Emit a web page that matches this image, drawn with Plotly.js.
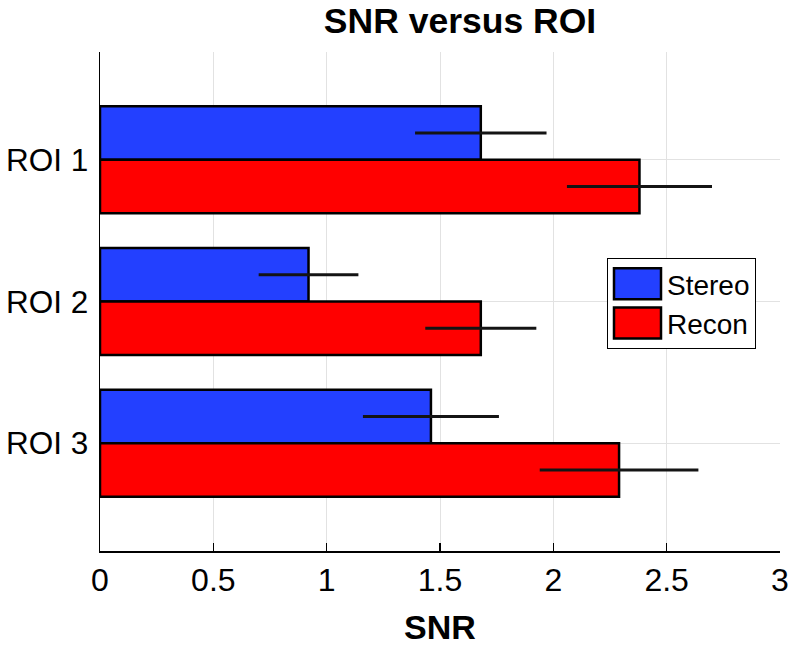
<!DOCTYPE html>
<html>
<head>
<meta charset="utf-8">
<script src="https://cdn.plot.ly/plotly-3.0.1.min.js"></script>
<style>html,body{margin:0;padding:0;background:#fff;}#chart{width:790px;height:646px;}</style>
</head>
<body>
<div id="chart"></div>
<script>
// Data
var roiPositions = [1, 2, 3];
var roiLabels = ['ROI 1', 'ROI 2', 'ROI 3'];
var stereoSNR = [1.68, 0.92, 1.46];
var stereoErr = [0.29, 0.22, 0.30];
var reconSNR = [2.38, 1.68, 2.29];
var reconErr = [0.32, 0.245, 0.35];
var xTicks = [0, 0.5, 1, 1.5, 2, 2.5, 3];
var xTickLabels = ['0', '0.5', '1', '1.5', '2', '2.5', '3'];

var FONT = 'Liberation Sans, Arial, Helvetica, sans-serif';
var errStyle = {type: 'data', visible: true, thickness: 3, width: 0, color: '#141414'};

var traces = [
  {
    type: 'bar', orientation: 'h', name: 'Stereo',
    y: roiPositions, x: stereoSNR,
    error_x: Object.assign({array: stereoErr}, errStyle),
    marker: {color: 'rgb(35,64,255)', line: {color: '#000', width: 2.5}}
  },
  {
    type: 'bar', orientation: 'h', name: 'Recon',
    y: roiPositions, x: reconSNR,
    error_x: Object.assign({array: reconErr}, errStyle),
    marker: {color: 'rgb(255,0,0)', line: {color: '#000', width: 2.5}}
  }
];

var layout = {
  width: 790, height: 646,
  margin: {l: 100, r: 10, t: 52, b: 95},
  paper_bgcolor: '#fff', plot_bgcolor: '#fff',
  font: {family: FONT, color: '#000', size: 31},
  barmode: 'group', bargap: 0.245, bargroupgap: 0,
  title: {
    text: '<b>SNR versus ROI</b>',
    font: {family: FONT, size: 35.5, color: '#000'},
    x: 460 / 790, xref: 'container', xanchor: 'center',
    y: 1 - 21 / 646, yref: 'container', yanchor: 'middle'
  },
  xaxis: {
    range: [0, 3], tickvals: xTicks, ticktext: xTickLabels,
    showgrid: true, gridcolor: 'rgb(226,226,226)', gridwidth: 1,
    zeroline: false, showline: true, linecolor: '#000', linewidth: 1.5,
    ticks: 'inside', ticklen: 8, tickwidth: 1.5, tickcolor: '#000',
    tickfont: {family: FONT, size: 32, color: '#000'},
    title: {text: '<b>SNR</b>', font: {family: FONT, size: 34, color: '#000'}, standoff: 29},
    mirror: false, fixedrange: true
  },
  yaxis: {
    range: [3.76, 0.24], tickvals: roiPositions, ticktext: roiLabels,
    showgrid: true, gridcolor: 'rgb(226,226,226)', gridwidth: 1,
    zeroline: false, showline: true, linecolor: '#000', linewidth: 1.5,
    ticks: '', ticklabelstandoff: 4,
    tickfont: {family: FONT, size: 31.5, color: '#000'},
    mirror: false, fixedrange: true
  },
  showlegend: true,
  legend: {
    x: (607 - 100) / 680, xanchor: 'left', xref: 'paper',
    y: (551 - 258) / 499, yanchor: 'top', yref: 'paper',
    bgcolor: '#fff', bordercolor: '#000', borderwidth: 1,
    font: {family: FONT, size: 28, color: '#000'},
    itemwidth: 49, tracegroupgap: 0
  }
};

Plotly.newPlot('chart', traces, layout, {displayModeBar: false, staticPlot: true}).then(function () {
  var bg = document.querySelector('.legend rect.bg');
  if (!bg) return;
  var left = bg.getBoundingClientRect().left;
  document.querySelectorAll('.legend .legendpoints path').forEach(function (p) {
    p.removeAttribute('transform');
    var bb = p.getBBox();
    if (!bb.width || !bb.height) return;
    var r = p.getBoundingClientRect();
    var cxLocal = bb.x + bb.width / 2, cyLocal = bb.y + bb.height / 2;
    var dx = (left + 30) - (r.left + r.width / 2);
    var sx = 47 / bb.width, sy = 31 / bb.height;
    p.setAttribute('transform',
      'translate(' + (cxLocal + dx) + ',' + cyLocal + ') scale(' + sx + ',' + sy + ') translate(' + (-cxLocal) + ',' + (-cyLocal) + ')');
    p.setAttribute('vector-effect', 'non-scaling-stroke');
  });
});
</script>
</body>
</html>
